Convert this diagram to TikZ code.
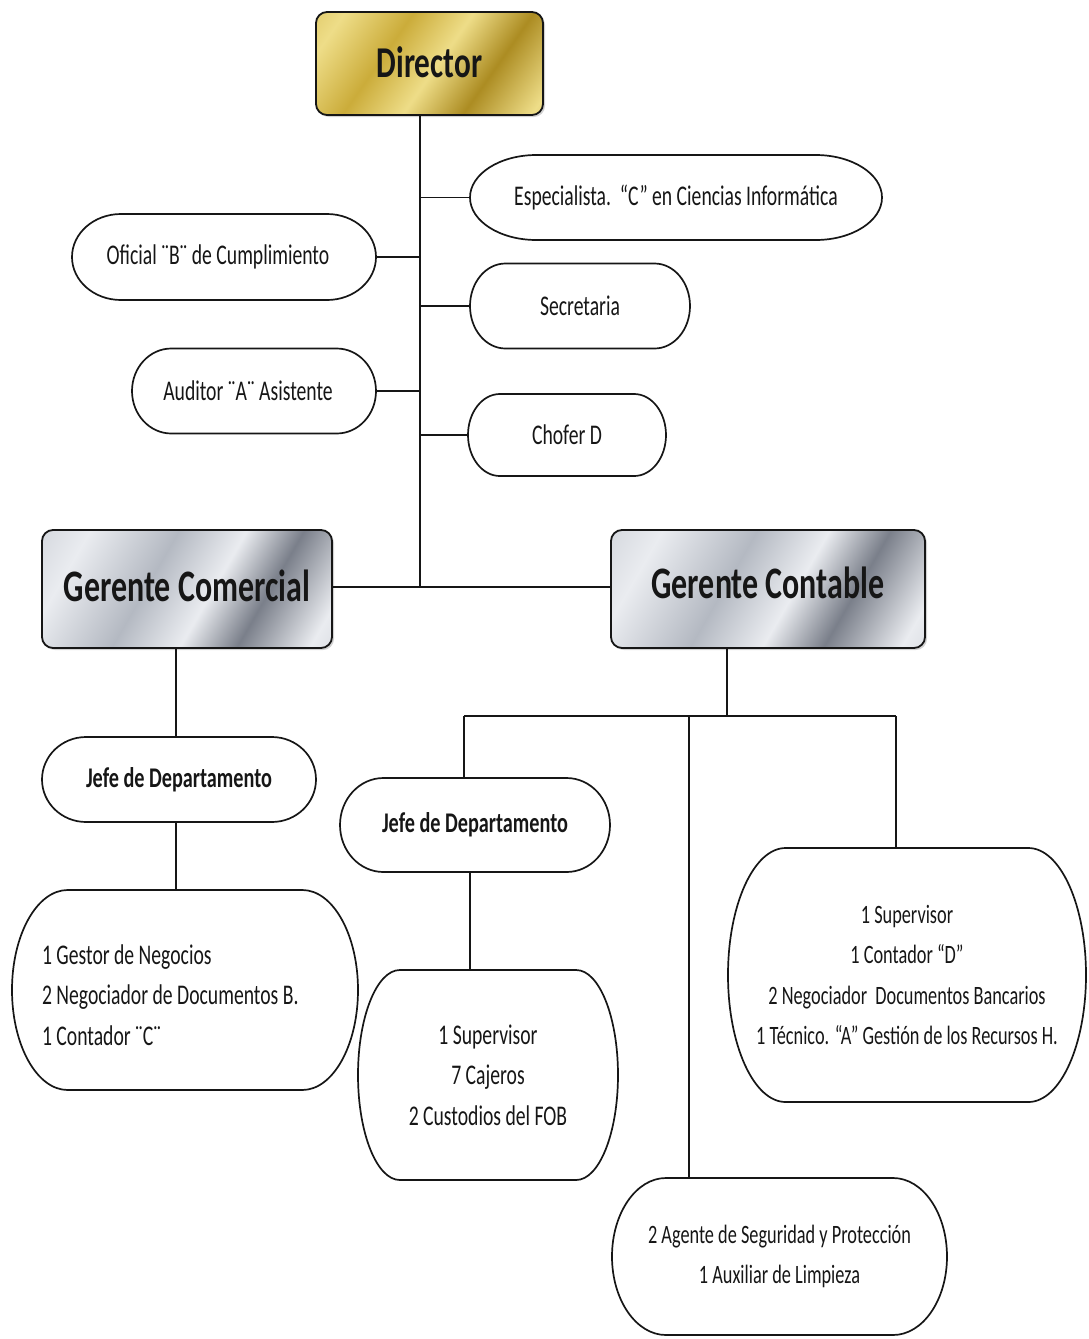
\documentclass[tikz,border=0pt]{standalone}
\usepackage{fontspec}
\setmainfont{Carlito}[FakeStretch=0.69]
\newfontfamily\headface{Carlito}[FakeStretch=0.71]
\usetikzlibrary{calc,shadows}

\definecolor{goldA}{RGB}{203,172,58}
\definecolor{goldB}{RGB}{238,221,136}
\definecolor{goldC}{RGB}{172,140,34}
\definecolor{silA}{RGB}{234,236,240}
\definecolor{silB}{RGB}{180,185,194}
\definecolor{silC}{RGB}{122,127,138}
\definecolor{ink}{RGB}{22,22,22}

\pgfdeclarehorizontalshading{goldsh}{100bp}{color(0bp)=(goldA); color(22bp)=(goldB); color(38bp)=(goldA); color(52bp)=(goldB); color(66bp)=(goldC); color(82bp)=(goldB); color(100bp)=(goldA)}
\pgfdeclarehorizontalshading{silversh}{100bp}{color(0bp)=(silB); color(25bp)=(silA); color(42bp)=(silB); color(55bp)=(silA); color(66bp)=(silC); color(80bp)=(silA); color(100bp)=(silB)}

% Office-style terminator outline: straight top/bottom, half-ellipse ends
\newcommand\drawterm[1]{%
  \draw[outline] let \p1=(#1.north west), \p2=(#1.south east),
    \n1={0.161*(\x2-\x1)}, \n2={(\y1-\y2)/2} in
    (\x1+\n1,\y1) -- (\x2-\n1,\y1)
    arc[start angle=90,end angle=-90,x radius=\n1,y radius=\n2]
    -- (\x1+\n1,\y2)
    arc[start angle=-90,end angle=-270,x radius=\n1,y radius=\n2] -- cycle;}

\begin{document}
\begin{tikzpicture}[x=1pt,y=1pt,
  conn/.style={draw=ink,line width=1.7pt},
  outline/.style={draw=ink,line width=1.7pt},
  term/.style={inner sep=0pt,outer sep=0pt,align=center,text=ink,
    font=\fontsize{28.5}{40.5}\selectfont},
  smallterm/.style={term,font=\fontsize{26.5}{40.5}\selectfont},
  boldterm/.style={term,font=\headface\bfseries\fontsize{28.5}{40.5}\selectfont},
  headbox/.style={draw=ink,line width=1.8pt,rounded corners=11pt,inner sep=0pt,
    outer sep=0pt,text=ink,drop shadow={opacity=0.35,shadow xshift=2pt,shadow yshift=-2pt}},
  goldbox/.style={headbox,shading=goldsh,shading angle=-35,
    font=\headface\bfseries\fontsize{44}{48}\selectfont},
  silverbox/.style={headbox,shading=silversh,shading angle=-30,
    font=\headface\bfseries\fontsize{45}{50}\selectfont}]

\useasboundingbox (0,0) rectangle (1089,-1339);

% heads
\node[goldbox,minimum width=227pt,minimum height=103pt] (dir) at (429.5,-63.5) {\raisebox{2pt}{Director}};
\node[silverbox,minimum width=290pt,minimum height=118pt] (gcom) at (187,-589) {\raisebox{6pt}{Gerente Comercial}};
\node[silverbox,minimum width=314pt,minimum height=118pt] (gcon) at (768,-589) {\raisebox{12pt}{Gerente Contable}};

% staff posts
\node[term,minimum width=412pt,minimum height=85pt] (esp) at (676,-197.5) {\raisebox{-2pt}{Especialista.\ \ “C” en Ciencias Informática}};
\node[term,minimum width=304pt,minimum height=86pt] (ofi) at (224,-257) {Oficial ¨B¨ de Cumplimiento\hspace*{12pt}};
\node[term,minimum width=220pt,minimum height=85pt] (sec) at (580,-306) {Secretaria};
\node[term,minimum width=244pt,minimum height=85pt] (aud) at (254,-391) {Auditor ¨A¨ Asistente\hspace*{12pt}};
\node[term,minimum width=198pt,minimum height=82pt] (cho) at (567,-435) {Chofer D};

% departments
\node[boldterm,minimum width=274pt,minimum height=85pt] (jefe1) at (179,-779.5) {Jefe de Departamento};
\node[boldterm,minimum width=270pt,minimum height=94pt] (jefe2) at (475,-825) {Jefe de Departamento};

\node[term,minimum width=346pt,minimum height=200pt] (box1) at (185,-990)
  {\raisebox{-13pt}[0pt][0pt]{\makebox[286pt][l]{\begin{tabular}{@{}l@{}}1 Gestor de Negocios\\2 Negociador de Documentos B.\\1 Contador ¨C¨\end{tabular}}}};
\node[term,minimum width=260pt,minimum height=210pt] (box2) at (488,-1075)
  {1 Supervisor\\7 Cajeros\\2 Custodios del FOB};
\node[smallterm,minimum width=358pt,minimum height=254pt] (box3) at (907,-975)
  {1 Supervisor\\1 Contador “D”\\2 Negociador\ \ Documentos Bancarios\\1 Técnico. “A” Gestión de los Recursos H.};
\node[smallterm,minimum width=335pt,minimum height=157pt] (box4) at (779.5,-1256.5)
  {2 Agente de Seguridad y Protección\\1 Auxiliar de Limpieza};

\foreach \nm in {esp,ofi,sec,aud,cho,jefe1,jefe2,box1,box2,box3,box4}{\drawterm{\nm}}

% connector guide points
\coordinate (trunk) at (420,-587);
\coordinate (lx) at (176,0);
\coordinate (rx) at (727,-716);
\coordinate (busL) at (464,-716);
\coordinate (busM) at (689,-716);
\coordinate (busR) at (896,-716);
\coordinate (j2x) at (470,0);

% director trunk and its branches
\draw[conn] (dir.south -| trunk) -- (trunk);
\draw[conn] (gcom.east |- trunk) -- (gcon.west |- trunk);
\draw[conn] (esp.west -| trunk) -- (esp.west);
\draw[conn] (sec.west -| trunk) -- (sec.west);
\draw[conn] (cho.west -| trunk) -- (cho.west);
\draw[conn] (ofi.east -| trunk) -- (ofi.east);
\draw[conn] (aud.east -| trunk) -- (aud.east);

% commercial line
\draw[conn] (gcom.south -| lx) -- (jefe1.north -| lx);
\draw[conn] (jefe1.south -| lx) -- (box1.north -| lx);

% accounting line
\draw[conn] (gcon.south -| rx) -- (rx);
\draw[conn] (busL) -- (busR);
\draw[conn] (busL) -- (jefe2.north -| busL);
\draw[conn] (busM) -- (box4.north -| busM);
\draw[conn] (busR) -- (box3.north -| busR);
\draw[conn] (jefe2.south -| j2x) -- (box2.north -| j2x);

\end{tikzpicture}
\end{document}
